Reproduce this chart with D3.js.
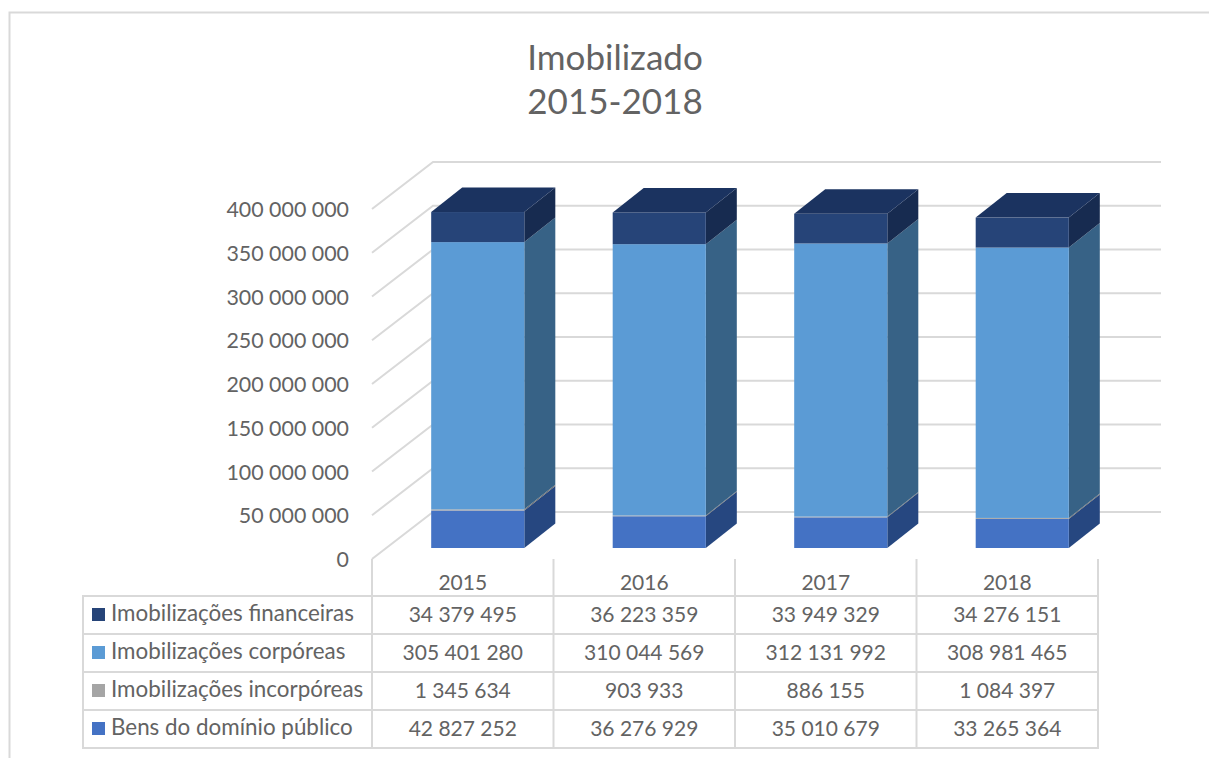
<!DOCTYPE html>
<html>
<head>
<meta charset="utf-8">
<style>
  html, body { margin:0; background:#fff; overflow:hidden; }
  svg { display:block; font-family:Lato, "Open Sans", sans-serif; }
  text { fill:#636363; }
</style>
<script src="https://d3js.org/d3.v7.min.js"></script>
</head>
<body>
<script>

var width = 1209;
var height = 758;

var years = ["2015", "2016", "2017", "2018"];
var seriesNames = ["Bens do domínio público", "Imobilizações incorpóreas", "Imobilizações corpóreas", "Imobilizações financeiras"];
var bens = [42827252, 36276929, 35010679, 33265364];
var incorporeas = [1345634, 903933, 886155, 1084397];
var corporeas = [305401280, 310044569, 312131992, 308981465];
var financeiras = [34379495, 36223359, 33949329, 34276151];
var yTicks = [0, 50000000, 100000000, 150000000, 200000000, 250000000, 300000000, 350000000, 400000000];

var seriesValues = [bens, incorporeas, corporeas, financeiras];
// front, side, top
var frontColors = ["#4472c4", "#a5a5a5", "#5b9bd5", "#264478"];
var sideColors = ["#264780", "#6d6d6d", "#376286", "#172b50"];
var topColor = "#1b3360";

// numbers with a space as thousands separator
function fmt(v) {
    return d3.format(",")(v).replace(/,/g, " ");
}

var svg = d3.select("body").append("svg")
    .attr("width", width)
    .attr("height", height);

// outer chart frame, cut off by the screenshot on the right and below
svg.append("path")
    .attr("d", "M9.5,758V12.5H1209")
    .attr("fill", "none")
    .attr("stroke", "#d9d9d9")
    .attr("stroke-width", 2);

var title = svg.append("text")
    .attr("text-anchor", "middle")
    .attr("font-size", 35);
title.append("tspan").attr("x", 615).attr("y", 70).text("Imobilizado");
title.append("tspan").attr("x", 615).attr("y", 114).text("2015-2018");

// scales, measured on the front plane of the bars
var x = d3.scaleBand()
    .domain(years)
    .range([372, 1098])
    .paddingInner(0.487)
    .paddingOuter(0.2435);

var floorY = d3.scaleLinear().domain([0, 400000000]).range([559, 209]);
var barY = d3.scaleLinear().domain([0, 400000000]).range([548, 198]);

var floorDx = 61, floorDy = -47;
var barDx = 31, barDy = -24.5, barShift = 15;

// gridlines: walls in the back, floor going to the front
var grid = svg.append("g").attr("fill", "none").attr("stroke", "#d9d9d9").attr("stroke-width", 2);
grid.selectAll("path")
    .data(yTicks)
    .enter().append("path")
    .attr("d", function(d) {
        var fy = floorY(d);
        return "M372," + fy + "L" + (372 + floorDx) + "," + (fy + floorDy) + "H1161";
    });

var yAxis = svg.append("g")
    .selectAll("text")
    .data(yTicks)
    .enter().append("text")
    .attr("x", 349)
    .attr("y", function(d) { return floorY(d) + 8; })
    .attr("text-anchor", "end")
    .attr("font-size", 21.4)
    .text(fmt);

// stacked bars with side and top faces
years.forEach(function(year, i) {
    var g = svg.append("g");
    var left = x(year) + barShift;
    var right = left + x.bandwidth();
    var base = 0;
    seriesValues.forEach(function(values, s) {
        var y0 = barY(base);
        var y1 = barY(base + values[i]);
        base += values[i];
        g.append("path")
            .attr("fill", sideColors[s])
            .attr("d", "M" + right + "," + y0 + "L" + (right + barDx) + "," + (y0 + barDy) +
                "V" + (y1 + barDy) + "L" + right + "," + y1 + "Z");
        g.append("rect")
            .attr("x", left)
            .attr("y", y1)
            .attr("width", x.bandwidth())
            .attr("height", y0 - y1)
            .attr("fill", frontColors[s]);
    });
    var top = barY(base);
    g.append("path")
        .attr("fill", topColor)
        .attr("d", "M" + left + "," + top + "L" + (left + barDx) + "," + (top + barDy) +
            "H" + (right + barDx) + "L" + right + "," + top + "Z");
});

// data table
var colX = d3.scaleBand().domain(years).range([372, 1098]);
var rowOrder = [3, 2, 1, 0];
var rowY = d3.scaleBand().domain(rowOrder).range([596, 748]);

var table = svg.append("g").attr("fill", "none").attr("stroke", "#d9d9d9").attr("stroke-width", 2);
rowOrder.forEach(function(s) {
    table.append("rect")
        .attr("x", 83)
        .attr("y", rowY(s))
        .attr("width", 1098 - 83)
        .attr("height", rowY.bandwidth());
});
colX.domain().concat("end").forEach(function(year) {
    var cx = year == "end" ? 1098 : colX(year);
    table.append("line")
        .attr("x1", cx).attr("x2", cx)
        .attr("y1", 559).attr("y2", 748);
});

svg.selectAll(".year")
    .data(years)
    .enter().append("text")
    .attr("class", "year")
    .attr("x", function(d) { return colX(d) + colX.bandwidth() / 2; })
    .attr("y", 590)
    .attr("text-anchor", "middle")
    .attr("font-size", 21)
    .text(function(d) { return d; });

rowOrder.forEach(function(s) {
    var cy = rowY(s) + rowY.bandwidth() / 2;
    svg.append("rect")
        .attr("x", 92).attr("y", cy - 7)
        .attr("width", 13).attr("height", 13)
        .attr("fill", frontColors[s]);
    svg.append("text")
        .attr("x", 111).attr("y", cy + 6)
        .attr("font-size", 22.4)
        .text(seriesNames[s]);
    years.forEach(function(year, i) {
        svg.append("text")
            .attr("x", colX(year) + colX.bandwidth() / 2)
            .attr("y", cy + 7)
            .attr("text-anchor", "middle")
            .attr("font-size", 21)
            .text(fmt(seriesValues[s][i]));
    });
});

</script>
</body>
</html>
